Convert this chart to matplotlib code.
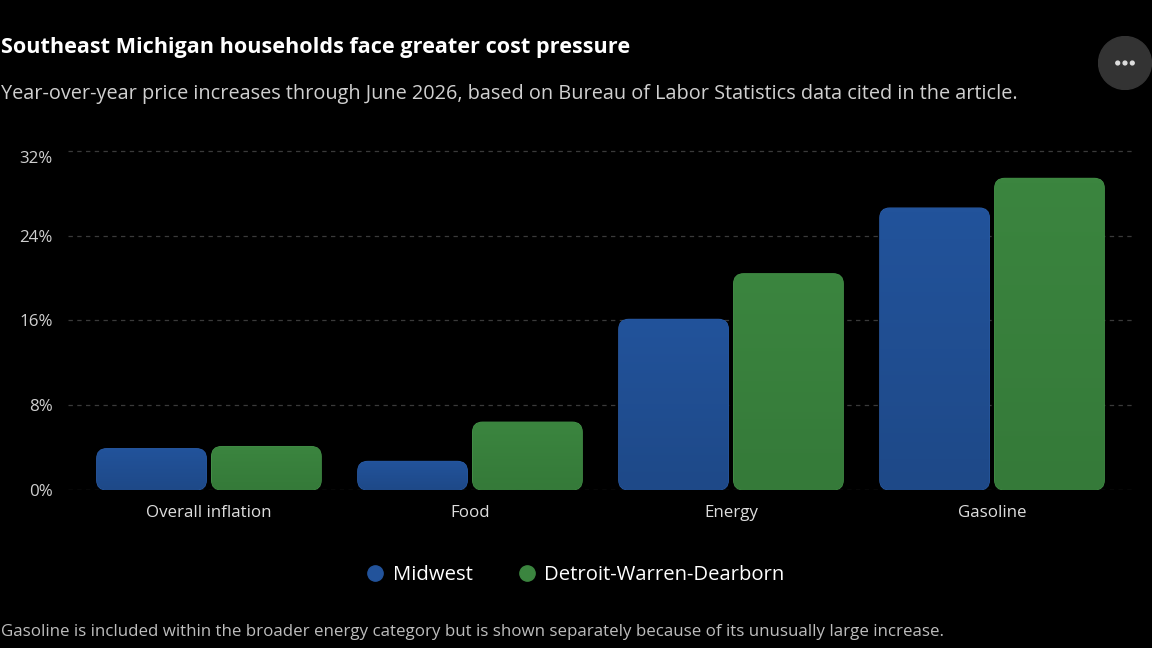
import numpy as np
import matplotlib.pyplot as plt
import matplotlib.transforms as mtransforms
from matplotlib.patches import FancyBboxPatch, Circle
from matplotlib.lines import Line2D
from matplotlib.colors import LinearSegmentedColormap

# -------------------------------------------------
# DATA
# -------------------------------------------------

categories = ["Overall inflation", "Food", "Energy", "Gasoline"]
midwest = [3.9, 2.7, 16.1, 26.6]
detroit = [4.1, 6.4, 20.4, 29.4]
series_names = ["Midwest", "Detroit-Warren-Dearborn"]
y_ticks = [0, 8, 16, 24, 32]

TITLE = "Southeast Michigan households face greater cost pressure"
SUBTITLE = ("Year-over-year price increases through June 2026, based on Bureau of "
            "Labor Statistics data cited in the article.")
FOOTNOTE = ("Gasoline is included within the broader energy category but is shown "
            "separately because of its unusually large increase.")

# colours: (top, bottom, edge)
BLUE = ("#22539b", "#1e4988", "#2b5ca6")
GREEN = ("#3b853f", "#357a39", "#449048")

plt.rcParams['font.family'] = ['Open Sans', 'DejaVu Sans']

W_PX, H_PX = 1152, 648
fig = plt.figure(figsize=(W_PX / 100, H_PX / 100), dpi=100, facecolor="black")
ax_rect = [68 / W_PX, 158 / H_PX, 1065 / W_PX, 344.5 / H_PX]
ax = fig.add_axes(ax_rect)
ax.set_facecolor("black")

XLIM = (-0.54, 3.54)
YLIM = (0, 32.5)
ax.set_xlim(*XLIM)
ax.set_ylim(*YLIM)

x = np.arange(len(categories))
width = 0.42
offset = 0.22

# invisible bars just to get geometry from the library
b1 = ax.bar(x - offset, midwest, width, alpha=0)
b2 = ax.bar(x + offset, detroit, width, alpha=0)

# px per data unit to keep corners round
px_x = ax_rect[2] * W_PX / (XLIM[1] - XLIM[0])
px_y = ax_rect[3] * H_PX / (YLIM[1] - YLIM[0])
radius_px = 10
r_x = radius_px / px_x
aspect = (radius_px / px_y) / r_x


def rounded(bars, colors):
    top, bottom, edge = colors
    cmap = LinearSegmentedColormap.from_list("g", [top, bottom])
    grad = np.linspace(0, 1, 64).reshape(-1, 1)
    for rect in bars:
        x0, y0 = rect.get_x(), rect.get_y()
        w, h = rect.get_width(), rect.get_height()
        patch = FancyBboxPatch((x0, y0), w, h,
                               boxstyle=f"round,pad=0,rounding_size={r_x}",
                               mutation_aspect=aspect,
                               facecolor=bottom, edgecolor=edge, lw=0.8, zorder=3)
        ax.add_patch(patch)
        im = ax.imshow(grad, cmap=cmap, extent=(x0, x0 + w, y0, y0 + h),
                       aspect="auto", origin="upper", zorder=3.1)
        im.set_clip_path(patch)


rounded(b1, BLUE)
rounded(b2, GREEN)
ax.set_xlim(*XLIM)
ax.set_ylim(*YLIM)

# grid / axes
ax.set_yticks(y_ticks)
ax.set_yticklabels([f"{v}%" for v in y_ticks])
for v in y_ticks:
    ax.axhline(v, color="#3a3a3a", lw=0.9, ls=(0, (3.5, 3.5)), zorder=1)
ax.set_xticks(x)
ax.set_xticklabels(categories)
ax.tick_params(axis="y", length=0, pad=11, labelsize=12.2, labelcolor="#cfcfcf")
ax.tick_params(axis="x", length=0, pad=11, labelsize=12.2, labelcolor="#dedede")
for s in ax.spines.values():
    s.set_visible(False)

# top label sits a bit below its gridline in the original
top_lbl = ax.get_yticklabels()[-1]
top_lbl.set_transform(top_lbl.get_transform() +
                      mtransforms.ScaledTranslation(0, -6 / 100, fig.dpi_scale_trans))

# legend
handles = [Line2D([], [], marker="o", ls="", color=BLUE[0], markersize=11),
           Line2D([], [], marker="o", ls="", color=GREEN[0], markersize=11)]
fig.legend(handles, series_names, loc="center",
           bbox_to_anchor=(575 / W_PX, 1 - 575 / H_PX), ncol=2, frameon=False,
           fontsize=14.6, labelcolor="white", handlelength=1.0,
           handletextpad=0.35, columnspacing=2.2)

# titles
fig.text(1 / W_PX, 1 - 48 / H_PX, TITLE, color="white", fontsize=15.6,
         fontweight="bold", va="center", ha="left")
fig.text(1 / W_PX, 1 - 94 / H_PX, SUBTITLE, color="#d0d0d0", fontsize=14.3,
         va="center", ha="left")
fig.text(1 / W_PX, 1 - 632 / H_PX, FOOTNOTE, color="#bdbdbd", fontsize=12.2,
         va="center", ha="left")

# menu button
btn = fig.add_axes([1098 / W_PX, 1 - 90 / H_PX, 54 / W_PX, 54 / H_PX])
btn.set_xlim(-1, 1)
btn.set_ylim(-1, 1)
btn.set_aspect("equal")
btn.axis("off")
btn.add_patch(Circle((0, 0), 0.98, color="#333333"))
for dx in (-0.27, 0, 0.27):
    btn.add_patch(Circle((dx, 0), 0.07, color="#dddddd"))

fig.savefig("out.png", dpi=100, facecolor="black")
